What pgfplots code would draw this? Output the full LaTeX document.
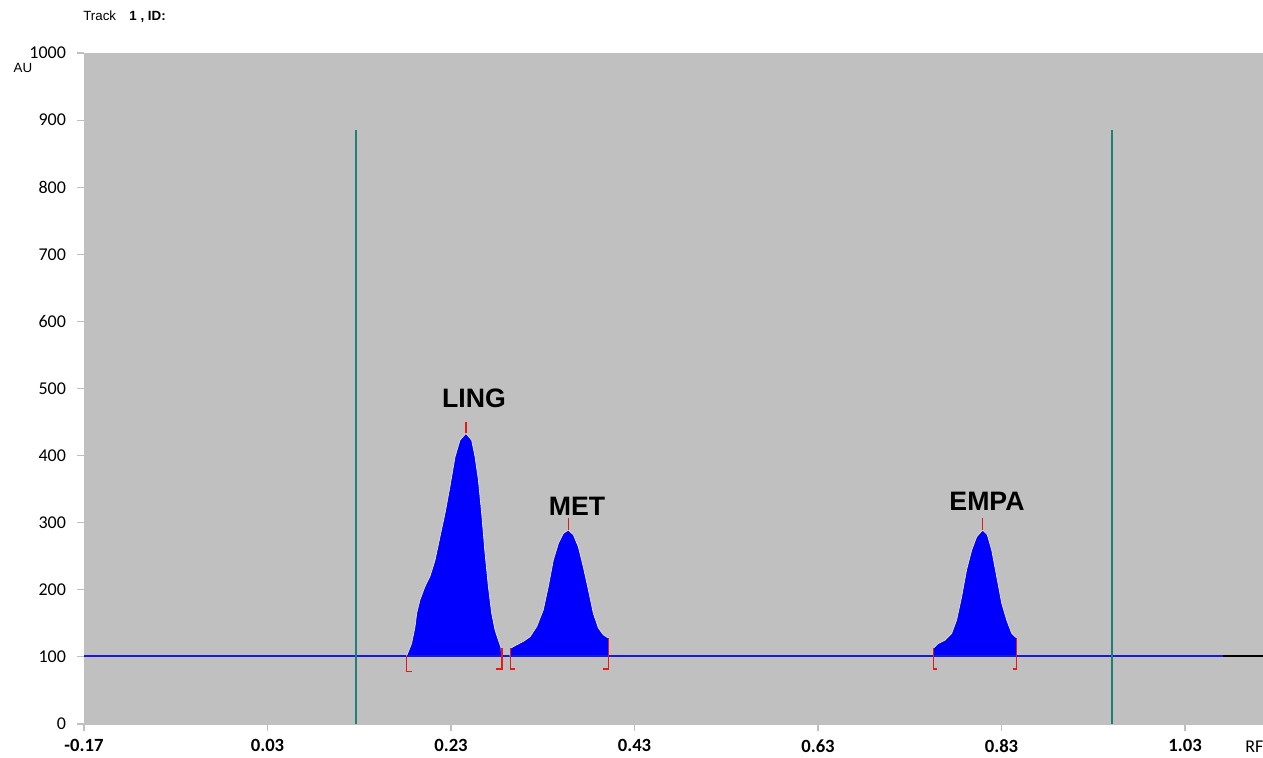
\documentclass[border=0pt]{standalone}
\usepackage{fontspec}
\setmainfont{Liberation Sans}
\newfontfamily\carlito{Carlito}
\usepackage{pgfplots}
\pgfplotsset{compat=1.18}
\definecolor{bggrey}{RGB}{192,192,192}
\definecolor{peakblue}{RGB}{0,0,255}
\definecolor{baseblue}{RGB}{25,25,215}
\definecolor{markteal}{RGB}{30,128,118}
\definecolor{intred}{RGB}{232,24,24}
\definecolor{rim}{RGB}{238,234,205}

\begin{document}
\begin{tikzpicture}
\path[use as bounding box] (-63pt,-24.75pt) rectangle (884.25pt,543pt);
\begin{axis}[
  at={(0pt,0pt)}, anchor=south west,
  scale only axis, width=884.25pt, height=503.25pt,
  xmin=-0.17, xmax=1.115, ymin=0, ymax=1000,
  axis background/.style={fill=bggrey},
  axis line style={draw=bggrey},
  tick align=outside, tick pos=left,
  major tick length=5pt,
  tick style={draw=gray!50, line width=0.8pt},
  xtick={-0.17,0.03,0.23,0.43,0.63,0.83,1.03},
  xticklabels={-0.17,0.03,0.23,0.43,0.63,0.83,1.03},
  ytick={0,100,...,1000},
  yticklabels={0,100,200,300,400,500,600,700,800,900,1000},
  xticklabel style={font=\carlito\bfseries\fontsize{14}{16}\selectfont, yshift=-3pt},
  yticklabel style={font=\carlito\fontsize{13.5}{15}\selectfont, xshift=-5pt},
  clip=false,
]
% baseline
\addplot[baseblue, line width=1.2pt] coordinates {(-0.17,101)(1.071,101)};
\addplot[black, line width=1.2pt] coordinates {(1.071,101)(1.115,101)};

% LING
\addplot[fill=peakblue, draw=rim, line width=0.5pt] coordinates {
 (0.1815,101)(0.1871,120)(0.1908,145)(0.1926,165)(0.1962,185)(0.2017,205)
 (0.2071,220)(0.2126,244)(0.2180,279)(0.2235,314)(0.2289,354)(0.2344,398)
 (0.2398,423)(0.2463,433)(0.2525,423)(0.2562,398)(0.2598,364)(0.2634,314)
 (0.2671,254)(0.2707,205)(0.2743,165)(0.2780,140)(0.2816,125)(0.2842,115)
 (0.2853,101)} -- cycle;
% MET
\addplot[fill=peakblue, draw=rim, line width=0.5pt] coordinates {
 (0.2943,101)(0.2950,113)(0.3015,118)(0.3088,123)(0.3161,130)(0.3234,145)
 (0.3306,170)(0.3361,205)(0.3415,244)(0.3470,269)(0.3524,284)(0.3579,289)
 (0.3633,282)(0.3688,264)(0.3742,234)(0.3797,200)(0.3851,165)(0.3906,143)
 (0.3960,133)(0.4015,128)(0.4015,101)} -- cycle;
% EMPA
\addplot[fill=peakblue, draw=rim, line width=0.5pt] coordinates {
 (0.7557,101)(0.7557,113)(0.7611,120)(0.7684,125)(0.7757,135)(0.7811,155)
 (0.7866,190)(0.7920,230)(0.7975,259)(0.8029,279)(0.8094,289)(0.8145,282)
 (0.8193,259)(0.8247,220)(0.8302,180)(0.8356,155)(0.8411,135)(0.8465,128)
 (0.8465,101)} -- cycle;
\addplot[baseblue, line width=1.2pt] coordinates {(0.1815,101)(0.2853,101)};
\addplot[baseblue, line width=1.2pt] coordinates {(0.2943,101)(0.4015,101)};
\addplot[baseblue, line width=1.2pt] coordinates {(0.7557,101)(0.8465,101)};

% integration brackets
\addplot[intred, line width=1.2pt] coordinates {(0.1875,78)(0.1815,78)(0.1815,101)};
\addplot[intred, line width=1.2pt] coordinates {(0.2795,82)(0.2853,82)(0.2853,113)};
\addplot[intred, line width=1.2pt] coordinates {(0.3000,82)(0.2948,82)(0.2948,113)};
\addplot[intred, line width=1.2pt] coordinates {(0.3955,82)(0.4015,82)(0.4015,128)};
\addplot[intred, line width=1.2pt] coordinates {(0.7600,82)(0.7557,82)(0.7557,113)};
\addplot[intred, line width=1.2pt] coordinates {(0.8420,82)(0.8465,82)(0.8465,128)};
% peak markers
\addplot[intred, line width=1pt] coordinates {(0.2463,433)(0.2463,450)};
\addplot[intred, line width=1pt] coordinates {(0.3579,289)(0.3579,307)};
\addplot[intred, line width=1pt] coordinates {(0.8094,289)(0.8094,307)};

% track limits
\addplot[markteal, line width=1pt] coordinates {(0.1265,0)(0.1265,885)};
\addplot[markteal, line width=1pt] coordinates {(0.9504,0)(0.9504,885)};

\node[font=\bfseries\fontsize{20}{24}\selectfont] at (axis cs:0.2551,486) {LING};
\node[font=\bfseries\fontsize{20}{24}\selectfont] at (axis cs:0.3673,325) {MET};
\node[font=\bfseries\fontsize{20}{24}\selectfont] at (axis cs:0.8142,332) {EMPA};
\end{axis}
\node[anchor=west, font=\fontsize{10}{12}\selectfont, inner sep=0pt] at (-0.75pt,530.25pt) {Track\hspace{10pt}\textbf{1 , ID:}};
\node[font=\fontsize{10}{12}\selectfont] at (-45.75pt,492pt) {AU};
\node[anchor=west, font=\carlito\fontsize{13.5}{15}\selectfont, inner sep=0pt] at (870.75pt,-17pt) {RF};
\end{tikzpicture}
\end{document}
